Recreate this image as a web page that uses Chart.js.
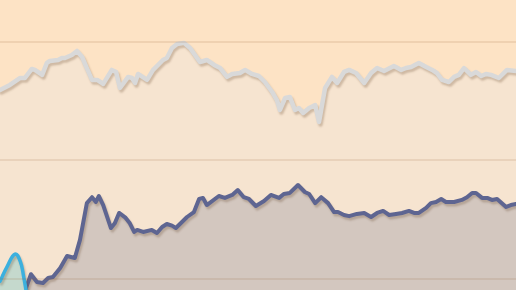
<!DOCTYPE html>
<html>
<head>
<meta charset="utf-8">
<script src="https://cdn.jsdelivr.net/npm/chart.js@4"></script>
<style>
  html, body { margin: 0; padding: 0; background: #fde3c5; }
  #wrap { width: 516px; height: 290px; position: relative; }
</style>
</head>
<body>
<div id="wrap"><canvas id="chart"></canvas></div>
<script>
//Time index (0..120) and values for the light gray series
var grayX = [0, 2.3, 4.7, 5.8, 7.4, 8.1, 9.8, 10.9, 11.6, 13.5, 14.4, 15.1, 16.7, 17.9, 19.1, 20.2, 21.4, 22.6, 24, 26,
    27, 27.9, 29.8, 30.7, 31.4, 32.1, 34.2, 35.6, 37.9, 38.8, 40, 41.2, 42.8, 44.2, 46.5, 48.1, 49.8, 51.2, 52.8, 54,
    55.8, 57, 58.6, 60.2, 61.6, 63.3, 64.4, 65.1, 66.3, 67.4, 68.6, 69.5, 70.5, 71.9, 73.3, 74.2, 75.6, 77.2, 78.4, 80,
    81.2, 82.8, 84.7, 86.3, 87.7, 89.3, 91.6, 93.3, 94.4, 95.6, 97.4, 99.1, 100.5, 101.6, 102.8, 104.4, 105.6, 106.7, 107.9, 109.5,
    110.7, 111.9, 113, 114.2, 116, 117.9, 120];
var grayY = [159.5, 163.7, 169.6, 169.6, 177.2, 176.4, 172.2, 182.3, 184, 184.8, 186.5, 186.5, 189, 192.4, 187.3, 178, 168, 168, 164.6, 176.4,
    174.7, 161.2, 170.5, 169.6, 165.4, 173, 168, 176.4, 184.8, 186.5, 194.9, 198.3, 199.2, 194.9, 183.1, 184.8, 180.6, 178, 170.5, 173,
    173.8, 176.4, 173, 171.3, 166.2, 157.8, 151, 142.6, 152.7, 153.6, 142.6, 144.3, 140.1, 144.3, 146.8, 132.5, 161.2, 170.5, 165.4, 174.7,
    176.4, 173.8, 165.4, 173.8, 178, 175.5, 179.7, 176.4, 178, 178.9, 182.3, 178.9, 176.4, 173.8, 168, 166.2, 170.5, 172.2, 178, 172.2,
    174.7, 171.3, 173, 172.2, 169.6, 176.4, 175.5];

//Dark slate series
var darkX = [0, 5.6, 7.2, 8.6, 10, 11.2, 12.3, 14, 15.6, 17.4, 18.6, 20.2, 21.4, 22.3, 23, 24, 25.8, 26.7, 27.7, 29.1,
    30.2, 31.2, 31.9, 33.3, 35.3, 36.5, 37.7, 38.8, 40, 40.9, 43.5, 45.1, 46.3, 47.2, 48.1, 50.9, 52.3, 54, 55.3, 56.7,
    57.9, 59.5, 61.4, 63, 64.9, 66, 67.4, 69.3, 70.9, 71.9, 73.3, 74.7, 76.3, 77.7, 78.6, 80, 81.2, 83, 84.7, 86.3,
    87.7, 89.1, 90.5, 92.1, 93.5, 95.1, 96.3, 97.4, 99.1, 100.2, 101.4, 102.6, 103.7, 105.6, 107.4, 108.6, 109.8, 110.7, 112.1, 113.3,
    114.4, 115.6, 117.7, 118.8, 120];
var darkY = [-20, -12, 4, -2.5, -3.4, 0.8, 1.7, 9.3, 19.4, 17.7, 33, 64, 69, 65, 70, 62.4, 43, 47, 55.7, 52,
    47, 39.7, 41.4, 39.7, 41.4, 38.8, 43.9, 46.4, 45, 43, 52.3, 56.5, 67.5, 68.4, 62.4, 70, 68.4, 70.9, 75, 69,
    67.5, 61.6, 65.8, 70.9, 68.4, 71.7, 72.6, 79.3, 73.4, 71.7, 64, 69, 64, 56.5, 56.5, 54, 53, 54.9, 55.7, 52.3,
    55.7, 57.4, 54, 54.9, 55.7, 57.4, 55.7, 55.7, 60, 64, 65, 67.5, 65, 65, 66.7, 69, 72.6, 72.6, 68.4, 68.4,
    66.7, 67.5, 60.8, 62.4, 63.3];

//Small cyan bump at the start
var cyanX = [0, 1.6, 3.5, 4.7, 5.5, 6.3];
var cyanY = [-2, 10, 21, 15, 2, -15];

//Gridlines sit at these values
var gridTicks = [0, 100, 200];

function toPoints(xs, ys)
{
    var pts = [];
    for (var i = 0; i < xs.length; i++) pts.push({x: xs[i], y: ys[i]});
    return pts;
}

//adds a soft drop shadow under each line
var lineShadow = {
    id: 'lineShadow',
    beforeDatasetDraw: function(chart) {
        var ctx = chart.ctx;
        ctx.save();
        ctx.shadowColor = 'rgba(90,60,30,0.25)';
        ctx.shadowOffsetX = 1.5;
        ctx.shadowOffsetY = 2.5;
        ctx.shadowBlur = 2;
    },
    afterDatasetDraw: function(chart) {
        chart.ctx.restore();
    }
};

new Chart(document.getElementById('chart'), {
    type: 'line',
    data: {
        datasets: [{
            data: toPoints(cyanX, cyanY),
            borderColor: '#3cb0de',
            backgroundColor: '#c5d9cd',
            borderWidth: 3.5,
            tension: 0.45,
            fill: 'start'
        }, {
            data: toPoints(darkX, darkY),
            borderColor: '#5e6591',
            backgroundColor: '#d3c7bf',
            borderWidth: 4,
            tension: 0,
            fill: 'start'
        }, {
            data: toPoints(grayX, grayY),
            borderColor: '#d9d9d9',
            backgroundColor: '#f6e4d0',
            borderWidth: 4.5,
            tension: 0,
            fill: 'start'
        }]
    },
    options: {
        responsive: true,
        maintainAspectRatio: false,
        animation: false,
        layout: {padding: 0},
        elements: {point: {radius: 0}, line: {borderJoinStyle: 'round', borderCapStyle: 'round'}},
        plugins: {legend: {display: false}, tooltip: {enabled: false}},
        scales: {
            x: {type: 'linear', min: 0, max: 120, display: false},
            y: {
                min: -9.3,
                max: 235.4,
                afterBuildTicks: function(scale) {
                    scale.ticks = gridTicks.map(function(v) { return {value: v}; });
                },
                ticks: {display: false},
                border: {display: false},
                grid: {color: 'rgba(150,95,45,0.13)', lineWidth: 2, drawTicks: false, z: 1}
            }
        }
    },
    plugins: [lineShadow]
});
</script>
</body>
</html>
